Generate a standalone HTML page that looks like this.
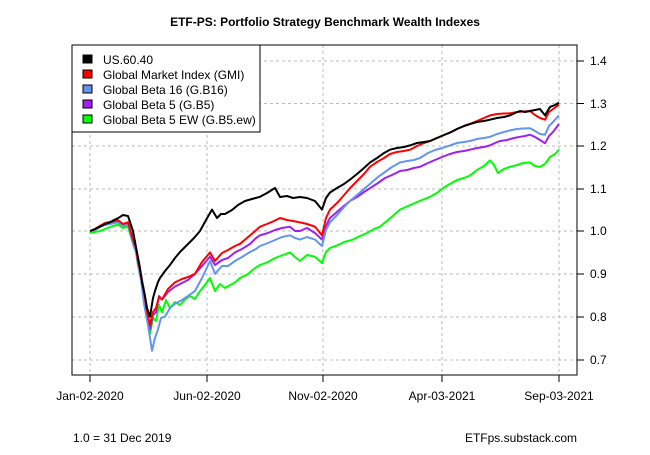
<!DOCTYPE html>
<html><head><meta charset="utf-8"><style>
html,body{margin:0;padding:0;background:#fff}
svg text{font-family:"Liberation Sans",Arial,sans-serif;}
</style></head><body>
<svg width="650" height="450" xmlns="http://www.w3.org/2000/svg">
<rect width="650" height="450" fill="#fff"/>
<text x="325" y="26" font-size="12" font-weight="bold" text-anchor="middle">ETF-PS: Portfolio Strategy Benchmark Wealth Indexes</text>
<g stroke="#bbb" stroke-dasharray="3,3" stroke-width="1">
<line x1="90" y1="45" x2="90" y2="375"/><line x1="207" y1="45" x2="207" y2="375"/>
<line x1="323" y1="45" x2="323" y2="375"/><line x1="442" y1="45" x2="442" y2="375"/>
<line x1="559" y1="45" x2="559" y2="375"/>
<line x1="72" y1="61" x2="577" y2="61"/><line x1="72" y1="103.5" x2="577" y2="103.5"/>
<line x1="72" y1="146" x2="577" y2="146"/><line x1="72" y1="189" x2="577" y2="189"/>
<line x1="72" y1="231" x2="577" y2="231"/><line x1="72" y1="274" x2="577" y2="274"/>
<line x1="72" y1="317" x2="577" y2="317"/><line x1="72" y1="360" x2="577" y2="360"/>
</g>
<g fill="none" stroke-width="2" stroke-linejoin="round">
<path stroke="#00ff00" d="M90,233 L95,232 L100,231 L105,229 L110,227 L118,224.6 L123,228 L128,226.7 L133,243.8 L136,252 L138,265 L141,275 L144,295 L147,310 L150,333.7 L153,318 L156,320.9 L159,305 L162,312.3 L166,300 L170,308 L175,302 L180,305 L185,299.5 L190,296 L195,299 L200,291 L205,285 L210,278 L215,291 L220,284 L225,288 L235,282.4 L240,278 L248,274 L255,268 L260,265 L268,262 L275,258 L283,255 L290,252.4 L295,257 L300,261 L307,255 L315,256.7 L322,263 L326,252 L330,248 L338,245 L345,241.7 L352,240 L360,236 L367,233 L374,229 L380,226.7 L388,220 L395,214 L400,209.6 L408,206 L415,203 L422,200 L430,196.8 L437,193 L443,188 L450,183.9 L457,180 L464,178 L470,175.4 L477,170 L484,166 L490,160.4 L494,165 L498,173 L504,169 L510,166.8 L517,165 L523,163 L530,162.5 L535,166 L540,166.8 L545,164 L550,157 L555,154 L559,149.7"/>
<path stroke="#a020f0" d="M90,231 L95,230 L100,226.7 L105,224 L110,223 L118,220.3 L123,224 L128,222.4 L133,239.6 L136,248 L138,261 L141,275 L144,291 L147,310 L150,329.4 L153,315 L156,312.3 L159,296 L162,299.5 L168,292 L175,286.6 L182,283 L188,280 L195,273.8 L202,266 L210,256.7 L215,265 L222,260 L228,258 L235,252.4 L242,249 L250,244 L256,238 L260,235.3 L268,233 L275,230 L282,228 L290,226.7 L295,231 L300,231 L307,228 L315,233 L322,239.6 L326,226 L330,218 L338,211 L345,205 L350,201 L357,197 L364,192 L370,188.2 L378,183 L385,178 L392,175 L400,171 L407,170 L414,168 L420,166.8 L428,163 L435,160 L442,157 L450,154 L457,152 L464,151 L470,149.7 L477,148 L484,147 L490,145.4 L495,143 L500,141 L507,140 L514,138 L520,136.8 L525,136 L530,134.7 L535,137 L540,140 L545,143.3 L549,136 L553,132 L559,124"/>
<path stroke="#6495ed" d="M90,231 L95,230 L100,226.7 L105,225 L110,224 L118,222.4 L123,226 L128,224.6 L133,243.8 L136,252 L138,265 L141,280 L144,303.8 L148,325 L152,350.8 L155,338 L158,329.4 L161,318 L165,316.6 L170,308 L175,303.8 L182,300 L188,296 L195,291 L202,278 L210,261 L215,273.8 L222,266 L228,266 L235,261 L242,257 L250,252 L256,249 L260,246 L268,243 L275,240 L282,237 L290,235.3 L295,238 L300,239.6 L307,237 L315,239.6 L322,246 L326,230 L330,222.4 L338,214 L345,206 L350,201 L357,195 L364,189 L370,183.9 L378,177 L385,172 L392,167 L400,162.5 L407,161 L414,160 L420,158 L428,153 L435,150 L442,148 L450,145.4 L457,143 L464,142 L470,141 L477,139 L484,138 L490,136.8 L497,134 L504,132 L510,130.4 L517,129 L523,128.5 L530,128.3 L535,131 L540,134 L545,134.7 L549,126 L553,122 L559,115.4"/>
<path stroke="#ff0000" d="M90,231 L95,229 L100,225.9 L105,223 L110,222 L118,220.3 L123,224 L128,222.4 L133,239.6 L136,248 L138,261 L141,275 L144,291 L147,312 L150,325 L153,312 L156,308 L159,297 L162,299.5 L168,289 L175,282.4 L182,279 L188,277 L195,273.8 L202,262 L210,252.4 L215,261 L222,253 L228,250 L235,246 L240,243.8 L247,238 L254,232 L260,226.7 L267,224 L274,221 L280,218 L287,220 L293,221 L300,222.4 L307,224 L315,226.7 L322,235.3 L326,218 L330,209.6 L338,202 L345,194 L350,188.2 L357,181 L364,174 L370,166.8 L377,162 L384,158 L390,154 L397,152 L404,151 L410,149.7 L417,146 L424,143 L430,141 L437,138 L444,135 L450,132.6 L457,129 L464,126 L470,124 L477,121 L484,118 L490,115.4 L497,114 L504,113.5 L510,113.3 L517,112 L523,111.5 L530,111 L535,115 L540,118 L545,119.7 L549,112 L553,109 L559,104.7"/>
<path stroke="#000000" d="M90,231 L95,229 L100,226.7 L105,224 L110,222.4 L114,220 L118,218.2 L123,215 L128,216 L133,231 L137,252.4 L140,268 L142,282.4 L145,296 L147,308 L150,316.6 L153,298 L155,291 L158,282 L160,278 L165,271 L170,265 L175,258 L180,252 L187,245 L194,238 L200,231 L206,220 L212,209.6 L217,218 L221,214 L225,214 L232,210 L238,205 L245,201 L252,199 L260,196.8 L267,193 L275,188 L280,197 L287,196 L293,198 L300,197 L307,198 L315,201 L322,209.6 L326,198 L330,192.5 L337,188 L344,184 L350,179.6 L357,174 L364,168 L370,162.5 L377,158 L384,153 L390,149.7 L397,148 L404,147 L410,145.4 L417,143 L424,142 L430,141 L437,138 L444,135 L450,132.6 L457,129 L464,126 L470,124 L477,122 L484,121 L490,119.7 L497,118 L504,117 L510,115.4 L515,113 L520,111 L525,112 L530,111 L535,110 L540,109 L545,115.4 L550,106.9 L555,105 L559,102.6"/>
</g>
<rect x="72" y="45" width="505" height="330" fill="none" stroke="#000"/>
<g stroke="#000">
<line x1="90" y1="375" x2="90" y2="382"/><line x1="207" y1="375" x2="207" y2="382"/>
<line x1="323" y1="375" x2="323" y2="382"/><line x1="442" y1="375" x2="442" y2="382"/>
<line x1="559" y1="375" x2="559" y2="382"/>
<line x1="577" y1="61" x2="584" y2="61"/><line x1="577" y1="103.5" x2="584" y2="103.5"/>
<line x1="577" y1="146" x2="584" y2="146"/><line x1="577" y1="189" x2="584" y2="189"/>
<line x1="577" y1="231" x2="584" y2="231"/><line x1="577" y1="274" x2="584" y2="274"/>
<line x1="577" y1="317" x2="584" y2="317"/><line x1="577" y1="360" x2="584" y2="360"/>
</g>
<g font-size="12">
<text x="90" y="400" text-anchor="middle">Jan-02-2020</text>
<text x="207" y="400" text-anchor="middle">Jun-02-2020</text>
<text x="323" y="400" text-anchor="middle">Nov-02-2020</text>
<text x="442" y="400" text-anchor="middle">Apr-03-2021</text>
<text x="559" y="400" text-anchor="middle">Sep-03-2021</text>
<text x="590" y="65">1.4</text><text x="590" y="108">1.3</text><text x="590" y="150">1.2</text>
<text x="590" y="193">1.1</text><text x="590" y="235">1.0</text><text x="590" y="278">0.9</text>
<text x="590" y="321">0.8</text><text x="590" y="364">0.7</text>
<text x="73" y="442">1.0 = 31 Dec 2019</text>
<text x="577" y="442" text-anchor="end">ETFps.substack.com</text>
</g>
<rect x="72" y="45" width="188" height="87" fill="#fff" stroke="#000"/>
<g font-size="12">
<rect x="83" y="55" width="9" height="8" fill="#000" stroke="#000"/><text x="103" y="64">US.60.40</text>
<rect x="83" y="70" width="9" height="8" fill="#f00" stroke="#000"/><text x="103" y="79">Global Market Index (GMI)</text>
<rect x="83" y="85" width="9" height="8" fill="#6495ed" stroke="#000"/><text x="103" y="94">Global Beta 16 (G.B16)</text>
<rect x="83" y="100" width="9" height="8" fill="#a020f0" stroke="#000"/><text x="103" y="109">Global Beta 5 (G.B5)</text>
<rect x="83" y="115" width="9" height="8" fill="#0f0" stroke="#000"/><text x="103" y="124">Global Beta 5 EW (G.B5.ew)</text>
</g>
</svg>
</body></html>
